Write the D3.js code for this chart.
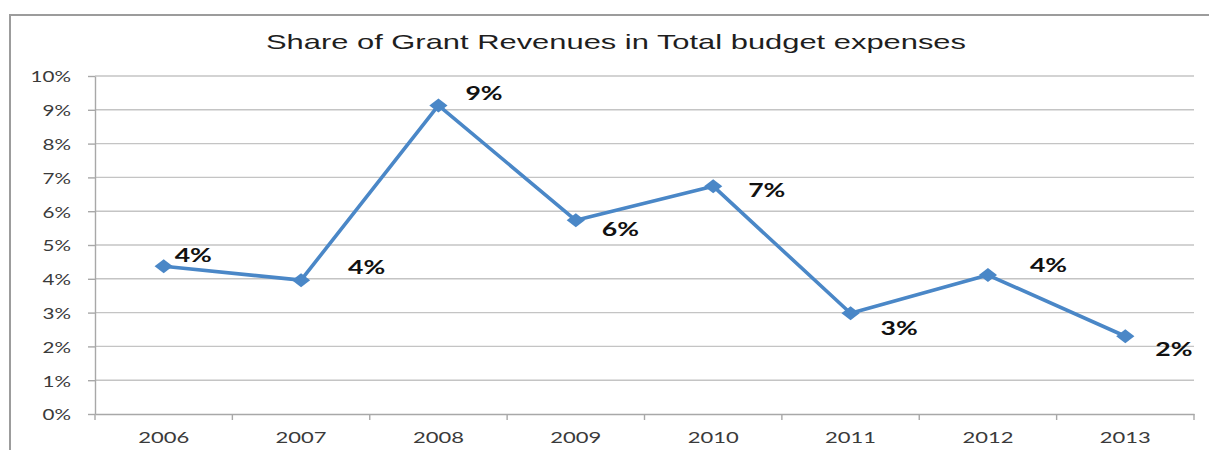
<!DOCTYPE html>
<html>
<head>
<meta charset="utf-8">
<script src="https://cdn.jsdelivr.net/npm/d3@7/dist/d3.min.js"></script>
<style>
  html, body { margin: 0; padding: 0; background: #fff; }
  svg { display: block; }
</style>
</head>
<body>
<svg id="chart" width="1209" height="450"></svg>
<script>
// Share of grant revenues in total budget expenses, percent by year
const years = ["2006", "2007", "2008", "2009", "2010", "2011", "2012", "2013"];
const grantShare = [4.37, 3.96, 9.13, 5.73, 6.74, 2.98, 4.11, 2.30];
const yTicks = [0, 1, 2, 3, 4, 5, 6, 7, 8, 9, 10];
const chartTitle = "Share of Grant Revenues in Total budget expenses";

// label nudges (dx, dy from each marker), layout only
const labelNudge = [[11, -4], [47, -6], [27, -5], [26, 16], [35, 11], [30, 22], [42, -3], [30, 20]];

const svg = d3.select("#chart");
const plotLeft = 95, plotRight = 1194, plotTop = 76, plotBottom = 414;
const TITLE_FONT = "'Liberation Sans', Arial, sans-serif";
const FONT = "Lato, 'Liberation Sans', Arial, sans-serif";

// outer chart frame (open to the right and bottom edges)
svg.append("rect")
  .attr("x", 10).attr("y", 15)
  .attr("width", 1400).attr("height", 600)
  .attr("fill", "none")
  .attr("stroke", "#9c9c9c")
  .attr("stroke-width", 2);

const x = d3.scaleBand().domain(years).range([plotLeft, plotRight]);
const y = d3.scaleLinear().domain([0, 10]).range([plotBottom, plotTop]);
const cx = d => x(d) + x.bandwidth() / 2;

// horizontal gridlines
svg.append("g")
  .selectAll("line")
  .data(yTicks.filter(t => t > 0))
  .join("line")
  .attr("x1", plotLeft).attr("x2", plotRight)
  .attr("y1", d => y(d)).attr("y2", d => y(d))
  .attr("stroke", "#c4c4c4")
  .attr("stroke-width", 1.4);

// y axis
const yAxis = svg.append("g")
  .attr("transform", `translate(${plotLeft},0)`)
  .call(d3.axisLeft(y).tickValues(yTicks).tickFormat(d => d + "%").tickSize(7).tickSizeOuter(0));
yAxis.select(".domain").attr("stroke", "#a8a8a8").attr("stroke-width", 1.4);
yAxis.selectAll(".tick line").attr("stroke", "#a8a8a8").attr("stroke-width", 1.4);
const SY = 1.33;
yAxis.selectAll(".tick text")
  .attr("font-family", FONT)
  .attr("font-size", 15.5)
  .attr("fill", "#3a3a3a")
  .attr("x", -24 / SY)
  .attr("dy", "0.38em")
  .attr("transform", `scale(${SY},1)`);

// x axis: labels centred in each band
const xAxis = svg.append("g")
  .attr("transform", `translate(0,${plotBottom})`)
  .call(d3.axisBottom(x).tickSize(0).tickSizeOuter(0).tickPadding(18));
xAxis.select(".domain").attr("stroke", "#a8a8a8").attr("stroke-width", 1.4);
const SX = 1.42;
xAxis.selectAll(".tick text")
  .attr("font-family", FONT)
  .attr("font-size", 15.5)
  .attr("fill", "#3a3a3a")
  .attr("transform", `scale(${SX},1)`);

// x tick marks between categories
const boundaries = years.map(d => x(d)).concat([x(years[years.length - 1]) + x.step()]);
svg.append("g")
  .selectAll("line")
  .data(boundaries)
  .join("line")
  .attr("x1", d => d).attr("x2", d => d)
  .attr("y1", plotBottom).attr("y2", plotBottom + 6)
  .attr("stroke", "#a8a8a8")
  .attr("stroke-width", 1.4);

// title
svg.append("text")
  .attr("transform", `translate(616,49) scale(1.545,1)`)
  .attr("text-anchor", "middle")
  .attr("font-family", TITLE_FONT)
  .attr("font-size", 20)
  .attr("fill", "#1e1e1e")
  .text(chartTitle);

const points = years.map((yr, i) => ({ yr, v: grantShare[i], i }));

// series line
svg.append("path")
  .datum(points)
  .attr("fill", "none")
  .attr("stroke", "#4a87c7")
  .attr("stroke-width", 3.6)
  .attr("stroke-linejoin", "round")
  .attr("d", d3.line().x(d => cx(d.yr)).y(d => y(d.v)));

// diamond markers
const diamond = d3.symbol(d3.symbolSquare, 98)();
svg.append("g")
  .selectAll("path")
  .data(points)
  .join("path")
  .attr("d", diamond)
  .attr("fill", "#4a87c7")
  .attr("transform", d => `translate(${cx(d.yr)},${y(d.v)}) scale(1.3,1) rotate(45)`);

// value labels, rounded to whole percent
const SL = 1.4;
svg.append("g")
  .selectAll("text")
  .data(points)
  .join("text")
  .attr("transform", d => `translate(${cx(d.yr) + labelNudge[d.i][0]},${y(d.v) + labelNudge[d.i][1]}) scale(${SL},1)`)
  .attr("font-family", FONT)
  .attr("font-size", 19)
  .attr("font-weight", "bold")
  .attr("fill", "#111")
  .text(d => Math.round(d.v) + "%");
</script>
</body>
</html>
